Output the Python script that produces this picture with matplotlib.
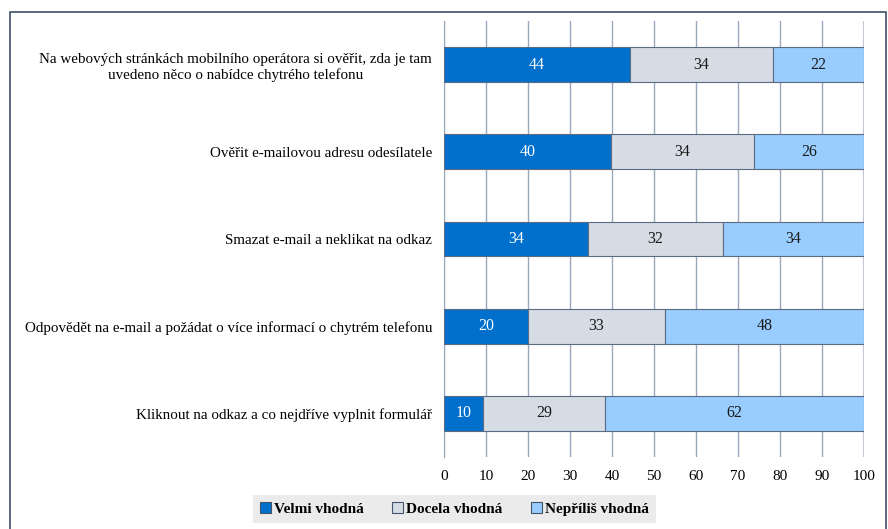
import matplotlib.pyplot as plt
import matplotlib.patches as patches
import numpy as np

plt.rcParams['font.family'] = ['Liberation Serif', 'DejaVu Serif']

# Answers, top to bottom
categories = [
    "Na webových stránkách mobilního operátora si ověřit, zda je tam\nuvedeno něco o nabídce chytrého telefonu",
    "Ověřit e-mailovou adresu odesílatele",
    "Smazat e-mail a neklikat na odkaz",
    "Odpovědět na e-mail a požádat o více informací o chytrém telefonu",
    "Kliknout na odkaz a co nejdříve vyplnit formulář",
]
series_names = ["Velmi vhodná", "Docela vhodná", "Nepříliš vhodná"]

# bar shares (percent of the row)
velmi = [44.4, 39.8, 34.4, 19.9, 9.4]
docela = [33.9, 34.0, 32.0, 32.6, 29.0]
neprilis = [21.7, 26.2, 33.6, 47.5, 61.6]

# numbers printed inside the bars
velmi_lbl = [44, 40, 34, 20, 10]
docela_lbl = [34, 34, 32, 33, 29]
neprilis_lbl = [22, 26, 34, 48, 62]

xticks = [0, 10, 20, 30, 40, 50, 60, 70, 80, 90, 100]

colors = ["#0070CC", "#D6DCE4", "#99CCFF"]
text_colors = ["white", "#1a1a1a", "#1a1a1a"]

W, H = 888, 529
fig = plt.figure(figsize=(W / 100, H / 100), dpi=100)
ax = fig.add_axes([444 / W, 1 - 457 / H, 420 / W, (457 - 21) / H])

y = np.arange(len(categories))
left = np.zeros(len(categories))
for vals, lbls, col, tcol, name in zip([velmi, docela, neprilis],
                                       [velmi_lbl, docela_lbl, neprilis_lbl],
                                       colors, text_colors, series_names):
    bars = ax.barh(y, vals, left=left, height=0.4, color=col,
                   edgecolor="#5A6B82", linewidth=0.8, label=name, zorder=3)
    ax.bar_label(bars, labels=[str(v) for v in lbls], label_type="center",
                 color=tcol, fontsize=11.5)
    left += np.array(vals)

ax.set_xlim(0, 100)
ax.set_ylim(len(categories) - 0.5, -0.5)
ax.set_xticks(xticks)
ax.set_yticks(y)
ax.set_yticklabels(categories, fontsize=10.8, multialignment="center")
ax.tick_params(axis="y", length=0, pad=8.5)
ax.tick_params(axis="x", length=0, pad=9, labelsize=11)
ax.xaxis.grid(True, color="#9AA8BE", linewidth=1, zorder=0)
glines = ax.get_xgridlines()
glines[-1].set_color("#C3CAD6")
glines[-1].set_linewidth(1.6)
for s in ["top", "right", "bottom"]:
    ax.spines[s].set_visible(False)
ax.spines["left"].set_color("#9AA8BE")

leg = fig.legend(loc="center", bbox_to_anchor=(454.5 / W, 1 - 509 / H), ncol=3,
                 frameon=True, fancybox=False, handlelength=0.7, handleheight=0.7,
                 handletextpad=0.2, columnspacing=1.9, borderpad=0.45,
                 prop={"weight": "bold", "size": 11})
leg.get_frame().set_facecolor("#E7E6E6")
leg.get_frame().set_edgecolor("none")
for h in leg.legend_handles:
    h.set_edgecolor("#44546A")
    h.set_linewidth(0.8)

# outer frame of the chart
fig.patches.append(patches.Rectangle((10 / W, -0.05), 876 / W, 1.05 - 12 / H,
                                     transform=fig.transFigure, fill=False,
                                     edgecolor="#3F5068", linewidth=1.2))

fig.savefig("out.png", dpi=100)
